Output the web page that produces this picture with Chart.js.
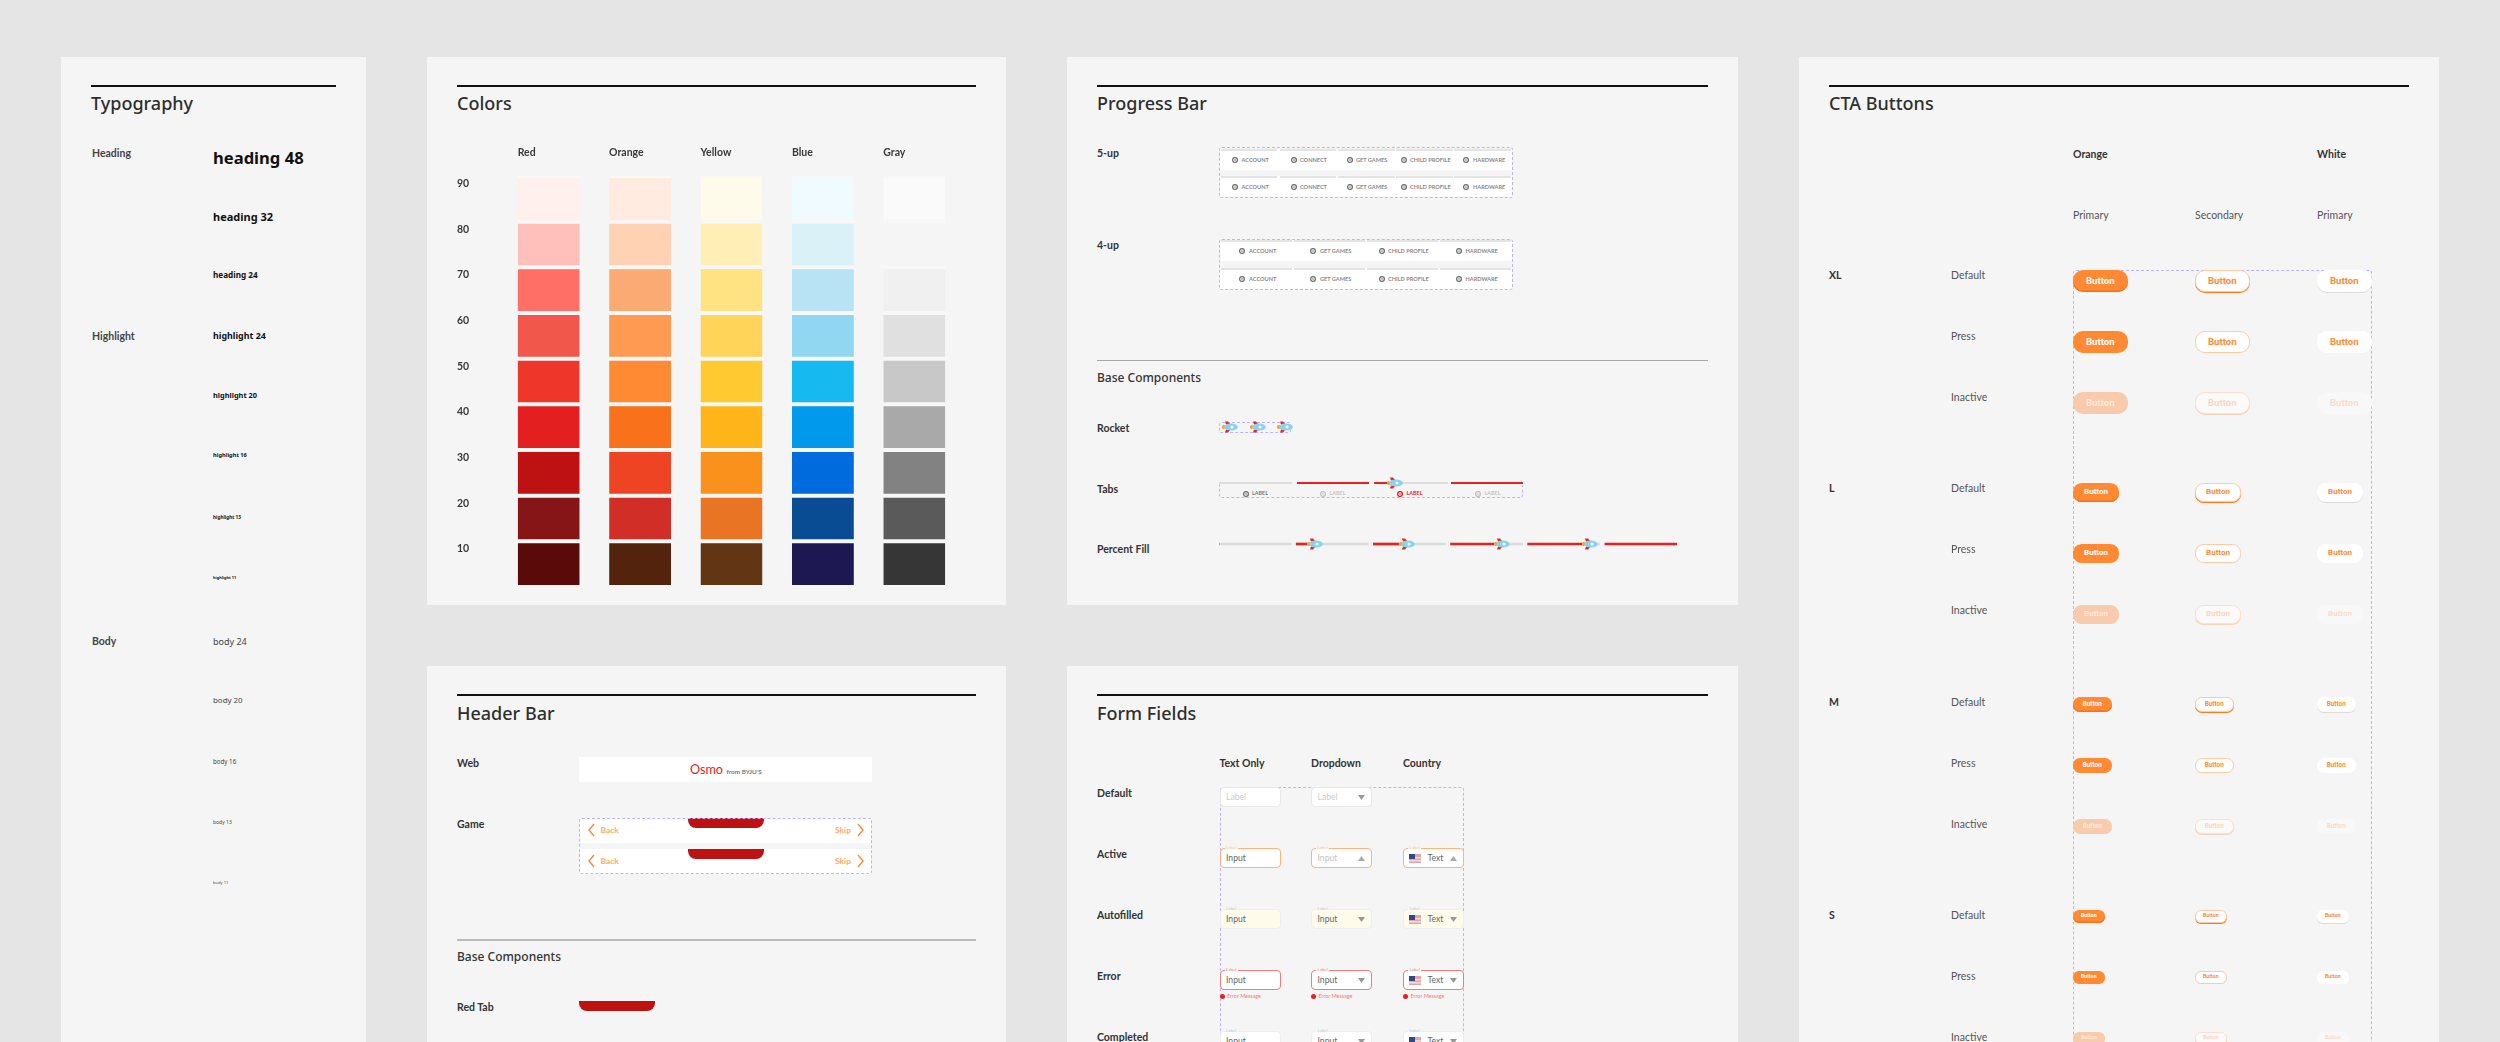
<!DOCTYPE html>
<html>
<head>
<meta charset="utf-8">
<title>Design system</title>
<script src="https://cdn.jsdelivr.net/npm/chart.js@4/dist/chart.umd.min.js"></script>
<style>
    html, body { margin: 0; padding: 0; width: 2500px; height: 1042px; overflow: hidden; background: #e5e5e5; }
    #sheet { position: relative; width: 2500px; height: 1042px; overflow: hidden; font-family: Lato, sans-serif; }
    #sheet div, #sheet canvas, #sheet svg { position: absolute; box-sizing: border-box; }
    .t { white-space: nowrap; line-height: 1; transform: translateY(-50%); }
    .dash { border: 1px dashed #bfb3ff; border-radius: 3px; }
    .c { display: flex; align-items: center; justify-content: center; line-height: 1; white-space: nowrap; font-family: Roboto, sans-serif; }
</style>
</head>
<body>
<div id="sheet"></div>
<script>
// swatch table
const colorNames = ['Red', 'Orange', 'Yellow', 'Blue', 'Gray'];
const shades = [90, 80, 70, 60, 50, 40, 30, 20, 10];
const reds = ['#fff0ee', '#ffc0bb', '#ff6f65', '#f2574c', '#ee372a', '#e31f1f', '#be1212', '#861518', '#5a0a08'];
const oranges = ['#ffebdf', '#ffd2b4', '#faaa72', '#ff9a52', '#ff8a33', '#f9711a', '#ef4423', '#d12e27', '#53230e'];
const yellows = ['#fffbeb', '#ffeeb6', '#ffe281', '#ffd459', '#ffc932', '#ffb41a', '#fa911d', '#e87424', '#623515'];
const blues = ['#effbff', '#daf1f7', '#b7e3f4', '#92d7f1', '#17baf0', '#0099ec', '#006bdc', '#0a4c93', '#1d1852'];
const grays = ['#fafafa', '#f5f5f5', '#f0f0f0', '#e0e0e0', '#c8c8c8', '#a9a9a9', '#828282', '#5a5a5a', '#363636'];
const swatchUnits = [1, 1, 1, 1, 1];

// percent fill row
const percentFill = [0, 15, 35, 60, 75, 100];

// text
const headingRows = ['heading 48', 'heading 32', 'heading 24'];
const highlightRows = ['highlight 24', 'highlight 20', 'highlight 16', 'highlight 13', 'highlight 11'];
const bodyRows = ['body 24', 'body 20', 'body 16', 'body 13', 'body 11'];
const steps5 = ['ACCOUNT', 'CONNECT', 'GET GAMES', 'CHILD PROFILE', 'HARDWARE'];
const steps4 = ['ACCOUNT', 'GET GAMES', 'CHILD PROFILE', 'HARDWARE'];
const fieldColumns = ['Text Only', 'Dropdown', 'Country'];
const fieldStates = ['Default', 'Active', 'Autofilled', 'Error', 'Completed'];
const buttonSizes = ['XL', 'L', 'M', 'S'];
const buttonStates = ['Default', 'Press', 'Inactive'];

const sheet = document.getElementById('sheet');
const sampleFont = "font-family:'Noto Sans',sans-serif;";

function box(x, y, w, h, css, cls) {
    const d = document.createElement('div');
    d.style.cssText = `left:${x}px;top:${y}px;width:${w}px;height:${h}px;${css || ''}`;
    if (cls) d.className = cls;
    sheet.appendChild(d);
    return d;
}

function txt(x, y, str, size, weight, color, extra) {
    const d = document.createElement('div');
    d.className = 't';
    d.textContent = str;
    d.style.cssText = `left:${x}px;top:${y}px;font-size:${size}px;font-weight:${weight};color:${color};${extra || ''}`;
    sheet.appendChild(d);
    return d;
}

function title(x, y, str) {
    txt(x, y, str, 18, 500, '#2e2e2e', sampleFont);
}

function card(x, y, w, h, name) {
    box(x, y, w, h, 'background:#f5f5f5');
    box(x + 30, 84.5, w - 60, 2, 'background:#111');
    title(x + 30, 103, name);
}

function svg(x, y, w, h, inner) {
    const s = document.createElementNS('http://www.w3.org/2000/svg', 'svg');
    s.setAttribute('width', w);
    s.setAttribute('height', h);
    s.setAttribute('viewBox', `0 0 ${w} ${h}`);
    s.style.left = x + 'px';
    s.style.top = y + 'px';
    s.innerHTML = inner;
    sheet.appendChild(s);
}

function rocket(x, cy) {
    svg(x, cy - 6, 17, 12,
        '<path d="M4 .5h3l2.5 3H5zM4 11.5h3l2.5-3H5z" fill="#e8281f"/>' +
        '<circle cx="2.8" cy="6" r="2" fill="#ffa21f"/>' +
        '<ellipse cx="10" cy="6" rx="6.8" ry="3.6" fill="#86d3ee"/>' +
        '<circle cx="11" cy="6" r="1.6" fill="#fff"/>');
}

function stepIcon(x, cy, color) {
    svg(x - 3, cy - 3, 6, 6, `<circle cx="3" cy="3" r="2.4" fill="none" stroke="${color}" stroke-width="1.4"/><circle cx="3" cy="3" r=".8" fill="${color}"/>`);
}

function chevron(x, cy, dir) {
    const p = dir < 0 ? 'M6 1L1 7l5 6' : 'M1 1l5 6-5 6';
    svg(x - 3.5, cy - 7, 7, 14, `<path d="${p}" fill="none" stroke="#ff8a33" stroke-width="1.4"/>`);
}

function caret(x, cy, up, color) {
    const p = up ? 'M0 5L3.5 0 7 5z' : 'M0 0h7L3.5 5z';
    svg(x - 3.5, cy - 2.5, 7, 5, `<path d="${p}" fill="${color}"/>`);
}

function flag(x, cy) {
    svg(x, cy - 4.5, 12, 9,
        '<rect width="12" height="9" fill="#e7a3a8"/><rect y="3" width="12" height="1.5" fill="#f4dcdc"/>' +
        '<rect y="6" width="12" height="1.5" fill="#f4dcdc"/><rect width="6" height="5" fill="#2f4a80"/>');
}

card(61, 56.5, 305, 986, 'Typography');
card(427, 56.5, 579, 548, 'Colors');
card(1067, 56.5, 671, 548, 'Progress Bar');
card(1799, 56.5, 640, 986, 'CTA Buttons');
box(427, 666, 579, 376, 'background:#f5f5f5');
box(457, 694, 519, 2, 'background:#111');
title(457, 713, 'Header Bar');
box(1067, 666, 671, 376, 'background:#f5f5f5');
box(1097, 694, 611, 2, 'background:#111');
title(1097, 713, 'Form Fields');

// Typography
txt(92, 153, 'Heading', 10.5, 700, '#444');
txt(92, 336, 'Highlight', 10.5, 700, '#444');
txt(92, 641, 'Body', 10.5, 700, '#444');
const headingY = [158, 216, 275];
const headingSize = [16.6, 11, 8.2];
headingRows.forEach((s, i) => txt(213, headingY[i], s, headingSize[i], 700, '#111', sampleFont));
const highlightY = [336, 396, 456, 517, 578];
const highlightSize = [8.9, 7.4, 5.7, 4.7, 3.9];
highlightRows.forEach((s, i) => txt(213, highlightY[i], s, highlightSize[i], 700, '#111', sampleFont));
const bodyY = [641, 701, 762, 822, 883];
const bodySize = [9, 7.9, 6.2, 5, 4.1];
bodyRows.forEach((s, i) => txt(213, bodyY[i], s, bodySize[i], 400, '#444', sampleFont));

// Colors chart
const colorCanvas = document.createElement('canvas');
colorCanvas.width = 503;
colorCanvas.height = 457;
colorCanvas.style.cssText = 'left:457px;top:130px;width:503px;height:457px';
sheet.appendChild(colorCanvas);

Chart.defaults.font.family = 'Lato, sans-serif';
Chart.defaults.animation = false;

const shadeSets = [];
for (let i = shades.length - 1; i >= 0; i--) {
    shadeSets.push({
        label: String(shades[i]),
        data: swatchUnits,
        backgroundColor: [reds[i], oranges[i], yellows[i], blues[i], grays[i]],
        borderColor: '#f8f8f8',
        borderWidth: { top: 2, bottom: 2, left: 0, right: 0 },
        borderSkipped: false,
        barPercentage: 0.678,
        categoryPercentage: 1
    });
}

new Chart(colorCanvas, {
    type: 'bar',
    data: { labels: colorNames, datasets: shadeSets },
    options: {
        responsive: false,
        layout: { padding: 0 },
        plugins: { legend: { display: false }, tooltip: { enabled: false } },
        scales: {
            x: {
                position: 'top',
                stacked: true,
                grid: { display: false, drawTicks: false },
                border: { display: false },
                afterFit: a => { a.height = 46; a.paddingLeft = 0; a.paddingRight = 0; },
                ticks: { align: 'start', labelOffset: -31, padding: 17, maxRotation: 0, autoSkip: false,
                    color: '#3a3a3a', font: { size: 10.5, weight: '700' } }
            },
            y: {
                stacked: true,
                min: 0,
                max: 9,
                grid: { display: false, drawTicks: false },
                border: { display: false },
                afterFit: a => { a.width = 46; a.paddingTop = 0; a.paddingBottom = 0; },
                ticks: { stepSize: 1, crossAlign: 'far', labelOffset: 7.5, padding: 0,
                    callback: v => (v === 0 ? '' : String(shades[9 - v])),
                    color: '#3a3a3a', font: { size: 10.5, weight: '700' } }
            }
        }
    }
});

// Progress bar
txt(1097, 153, '5-up', 10.5, 700, '#333');
txt(1097, 245, '4-up', 10.5, 700, '#333');
function progressRow(top, segs, iconX, textX) {
    box(1220, top, 292, 21, 'background:#fff');
    segs.forEach(s => box(s[0], top, s[1], 2, 'background:#e4e4e4'));
    iconX.forEach((x, i) => {
        stepIcon(x, top + 11, '#777');
        const names = iconX.length === 5 ? steps5 : steps4;
        txt(textX[i], top + 11, names[i], 5.6, 700, '#8a8a8a');
    });
}
const seg5 = [[1221, 56], [1279.5, 56.5], [1338, 56.5], [1396, 56.5], [1454, 56.5]];
const seg4 = [[1221, 71], [1294, 71], [1367, 71], [1440, 71]];
progressRow(149, seg5, [1235, 1294, 1349.5, 1404, 1466], [1241.5, 1300, 1356, 1410, 1473]);
progressRow(175.5, seg5, [1235, 1294, 1349.5, 1404, 1466], [1241.5, 1300, 1356, 1410, 1473]);
progressRow(240, seg4, [1242, 1313, 1382, 1459], [1249, 1320, 1388, 1465.5]);
progressRow(268, seg4, [1242, 1313, 1382, 1459], [1249, 1320, 1388, 1465.5]);
box(1219, 147, 293.5, 51, '', 'dash');
box(1219, 238.5, 293.5, 51, '', 'dash');

box(1097, 359.5, 611, 1.5, 'background:#a8a8a8');
txt(1097, 378, 'Base Components', 12, 500, '#333', sampleFont);
txt(1097, 427.5, 'Rocket', 10.5, 700, '#333');
box(1219, 421.5, 72, 11, '', 'dash');
[1221, 1249, 1276].forEach(x => rocket(x - 0.5, 427));

txt(1097, 488.5, 'Tabs', 10.5, 700, '#333');
box(1219, 483, 304, 15, 'border-top:none', 'dash');
box(1219, 482, 73, 2, 'background:#ddd');
box(1297, 482, 72, 2, 'background:#e8201f');
box(1374, 482, 14, 2, 'background:#e8201f');
box(1400, 482, 48, 2, 'background:#ddd');
box(1451, 482, 72, 2, 'background:#e8201f');
rocket(1386, 483);
const tabColor = ['#777', '#c4c4c4', '#e8201f', '#c4c4c4'];
[1245.5, 1323, 1400, 1478].forEach((x, i) => {
    stepIcon(x, 494, tabColor[i]);
    txt(x + 6.5, 494, 'LABEL', 5.4, 700, tabColor[i]);
});

// Percent fill, one stacked bar scaled 0-100 per segment
txt(1097, 549, 'Percent Fill', 10.5, 700, '#333');
const fillGap = 7;
const fillSets = [];
percentFill.forEach((p, i) => {
    fillSets.push({ data: [p], backgroundColor: '#e8201f', barThickness: 2 });
    fillSets.push({ data: [100 - p], backgroundColor: '#dcdcdc', barThickness: 2 });
    if (i < percentFill.length - 1) fillSets.push({ data: [fillGap], backgroundColor: 'rgba(0,0,0,0)', barThickness: 2 });
});
const fillCanvas = document.createElement('canvas');
fillCanvas.width = 458;
fillCanvas.height = 6;
fillCanvas.style.cssText = 'left:1219px;top:541px;width:458px;height:6px';
sheet.appendChild(fillCanvas);
const fillChart = new Chart(fillCanvas, {
    type: 'bar',
    data: { labels: ['fill'], datasets: fillSets },
    options: {
        indexAxis: 'y',
        responsive: false,
        plugins: { legend: { display: false }, tooltip: { enabled: false } },
        scales: {
            x: { display: false, stacked: true, min: 0, max: percentFill.length * 100 + (percentFill.length - 1) * fillGap },
            y: { display: false, stacked: true }
        }
    }
});
percentFill.forEach((p, i) => {
    if (p === 0 || p === 100) return;
    const v = i * (100 + fillGap) + p;
    rocket(1219 + fillChart.scales.x.getPixelForValue(v) - 1, 544);
});

// Header bar
txt(457, 763, 'Web', 10.5, 700, '#333');
txt(457, 824, 'Game', 10.5, 700, '#333');
box(579, 757, 293, 25, 'background:#fff');
txt(690, 769.5, 'Osmo', 12.6, 400, '#e8201f');
txt(726.5, 772, 'from BYJU\'S', 6.4, 700, '#777');
[818, 849].forEach(y => {
    box(580, y, 291, 24.5, 'background:#fff');
    box(687.5, y, 76, 9.5, 'background:#be1212;border-radius:0 0 8px 8px');
    chevron(591, y + 12, -1);
    chevron(860, y + 12, 1);
    txt(600.5, y + 12, 'Back', 8.4, 700, '#ffa866');
    txt(835, y + 12, 'Skip', 8.4, 700, '#ffa866');
});
box(579, 818, 293, 55.5, '', 'dash');
box(457, 939, 519, 2, 'background:#bbb');
txt(457, 957, 'Base Components', 12, 500, '#333', sampleFont);
txt(457, 1007, 'Red Tab', 10.5, 700, '#333');
box(579, 1001, 76, 9.5, 'background:#be1212;border-radius:0 0 8px 8px');

// Form fields
const fieldX = [1219.5, 1311, 1403];
fieldColumns.forEach((s, i) => txt(fieldX[i], 763, s, 10.5, 700, '#333'));
const stateY = [793, 854, 915, 976, 1037];
fieldStates.forEach((s, i) => txt(1097, stateY[i], s, 10.5, 700, '#333'));
box(1219.5, 787, 244.5, 300, '', 'dash');

const stateStyle = [
    { bg: '#fff', line: '1px solid #e8e8e8', label: null, color: '#ccc' },
    { bg: '#fff', line: '1.5px solid #ffb27a', label: '#ffc89f', color: '#666', up: true },
    { bg: '#fffbeb', line: '1px solid #eeeeee', label: '#ccc', color: '#666' },
    { bg: '#fff', line: '1.5px solid #ef7b7b', label: '#f59090', color: '#666', err: true },
    { bg: '#fff', line: '1px solid #eeeeee', label: '#ccc', color: '#666' }
];
stateStyle.forEach((st, r) => {
    const top = 787 + r * 61;
    fieldX.forEach((x, c) => {
        if (r === 0 && c === 2) return;
        box(x, top, 61, 20, `background:${st.bg};border:${st.line};border-radius:4px`);
        const mid = top + 10;
        if (st.label) {
            box(x + 5, top - 2, 13, 3, 'background:#f5f5f5');
            txt(x + 6.5, top - 0.5, 'Label', 4.4, 500, st.label);
        }
        let word = r === 0 ? 'Label' : 'Input';
        let wordColor = st.color;
        if (r === 1 && c === 1) wordColor = '#c4c4c4';
        if (c === 2) {
            flag(x + 6, mid);
            word = 'Text';
            txt(x + 24.5, mid, word, 8.6, 400, wordColor);
        } else {
            txt(x + 6.5, mid, word, 8.6, 400, wordColor);
        }
        if (c > 0) caret(x + 50.5, mid, st.up, st.up ? '#aaa' : '#999');
        if (st.err) {
            svg(x, top + 24, 5, 5, '<circle cx="2.5" cy="2.5" r="2.5" fill="#e8201f"/>');
            txt(x + 7.5, top + 26.5, 'Error Message', 5.4, 400, '#f47a7a');
        }
    });
});

// CTA buttons
txt(2073, 154, 'Orange', 10.5, 700, '#333');
txt(2317, 154, 'White', 10.5, 700, '#333');
txt(2073, 215, 'Primary', 10.5, 400, '#555');
txt(2195, 215, 'Secondary', 10.5, 400, '#555');
txt(2317, 215, 'Primary', 10.5, 400, '#555');
box(2073, 269.5, 299, 800, '', 'dash');

const sizeY = [275, 488, 702, 915];
const sizeW = [54.5, 46, 38.5, 31.6];
const sizeH = [22, 19, 15.5, 13];
const sizeFont = [9.6, 8, 6.4, 5.2];
const btnX = [2073, 2195, 2317];
buttonSizes.forEach((s, i) => {
    txt(1829, sizeY[i], s, 10.5, 700, '#333');
    buttonStates.forEach((state, r) => {
        const y = sizeY[i] + r * 61;
        txt(1951, y, state, 10.5, 400, '#555');
        const top = y - 5.5;
        btnX.forEach((x, c) => {
            let css;
            let color;
            if (c === 0) {
                color = r === 2 ? '#fde8d8' : '#fff';
                css = r === 2 ? 'background:#f8cbac' : 'background:#ff8a33';
                if (r === 0) css += ';box-shadow:inset 0 -1.5px 0 #f9711a';
            } else if (c === 1) {
                color = r === 2 ? '#fbd7bf' : '#ff8a33';
                css = r === 2 ? 'background:#fafafa;border:1px solid #fde0cc' : 'background:#fff;border:1px solid #ffc9a3';
                if (r === 0) css += ';box-shadow:0 1px 0 #ff7a1a';
                if (r === 2) css += ';box-shadow:0 1px 0 #fbd3b7';
            } else {
                color = r === 2 ? '#fbdcc8' : '#ff8a33';
                css = r === 2 ? 'background:#f8f8f8' : 'background:#fff';
                if (r === 0) css += ';box-shadow:0 1px 0 #dcdcdc';
            }
            const b = box(x, top, sizeW[i], sizeH[i], `${css};border-radius:${sizeH[i] * 0.45}px;color:${color};font-size:${sizeFont[i]}px;font-weight:700`, 'c');
            b.textContent = 'Button';
        });
    });
});
</script>
</body>
</html>
